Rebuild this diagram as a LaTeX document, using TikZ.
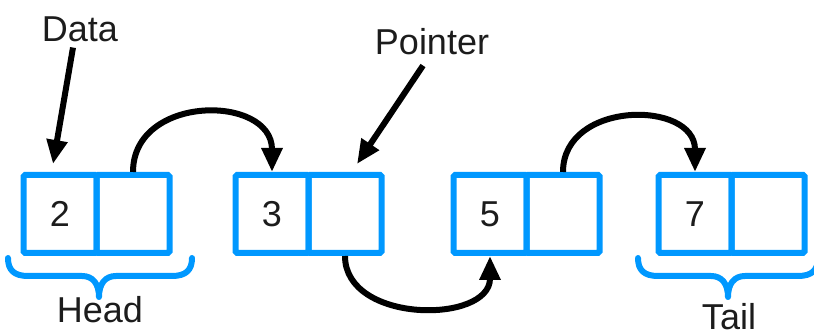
\documentclass[tikz,border=0pt]{standalone}
\usepackage{fontspec}
\setmainfont{Liberation Sans}
\usetikzlibrary{arrows.meta}
\definecolor{cellblue}{HTML}{0098FF}
\definecolor{ink}{HTML}{1C1C1C}
\tikzset{
  cell/.style={draw=cellblue, line width=6pt, rounded corners=1.5pt,
    minimum width=73pt, minimum height=78pt, inner sep=0pt,
    font=\fontsize{36}{40}\selectfont, text=ink},
  label/.style={font=\fontsize{36}{40}\selectfont, text=ink, anchor=base, inner sep=0pt},
  link/.style={line width=6pt, draw=black, -{Triangle[length=24pt,width=20pt]}},
  brace/.style={draw=cellblue, line width=6pt, line cap=round, line join=round},
}
\begin{document}
\begin{tikzpicture}[x=1pt,y=-1pt]
\useasboundingbox (0,0) rectangle (814,336);
\begin{scope}
\clip (0,0) rectangle (814,336);

% list cells: data part and pointer part of each element
\node[cell] (n1d) at (60,214) {2};
\node[cell] (n1p) at (133,214) {};
\node[cell] (n2d) at (272,214) {3};
\node[cell] (n2p) at (345,214) {};
\node[cell] (n3d) at (490,214) {5};
\node[cell] (n3p) at (563,214) {};
\node[cell] (n4d) at (695,214) {7};
\node[cell] (n4p) at (768,214) {};

% captions
\node[label] (data) at (80,42) {Data};
\node[label] (pointer) at (432,55) {Pointer};
\node[label] (head) at (100,323) {Head};
\node[label] (tail) at (729,330) {Tail};

% links between elements
\draw[link] (n1p.north) .. controls +(0,-78) and +(0,-78) .. (n2d.north);
\draw[link] (n2p.south) .. controls +(0,68) and +(0,68) .. (n3d.south);
\draw[link] (n3p.north) .. controls +(0,-72) and +(0,-72) .. (n4d.north);

% caption pointers
\coordinate (datatip) at (53,164);
\coordinate (ptrtip) at (357,164);
\draw[link] ([xshift=-7pt,yshift=-5pt]data.south) -- (datatip);
\draw[link] ([xshift=-9pt,yshift=-10pt]pointer.south) -- (ptrtip);

% braces under head and tail
\draw[brace] (8,258) .. controls (8,270) and (14,276) .. (28,276) -- (82,276)
  .. controls (93,276) and (99,284) .. (99,297)
  .. controls (99,284) and (105,276) .. (116,276) -- (172,276)
  .. controls (186,276) and (192,270) .. (192,258);
\draw[brace] (638,258) .. controls (638,270) and (644,276) .. (658,276) -- (711,276)
  .. controls (722,276) and (728,284) .. (728,297)
  .. controls (728,284) and (734,276) .. (745,276) -- (798,276)
  .. controls (812,276) and (818,270) .. (818,258);
\end{scope}
\end{tikzpicture}
\end{document}
